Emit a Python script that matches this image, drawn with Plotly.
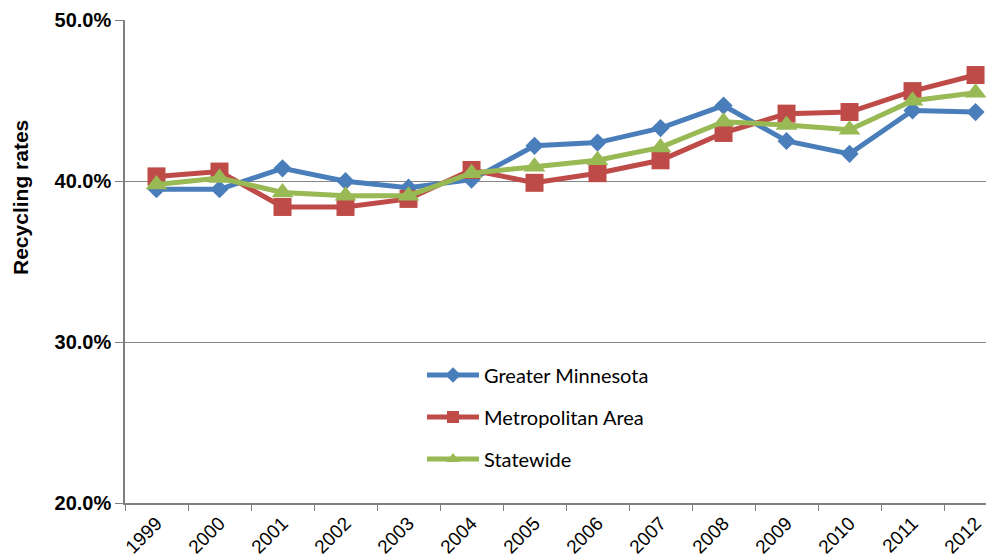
import plotly.graph_objects as go

years = ["1999", "2000", "2001", "2002", "2003", "2004", "2005", "2006",
         "2007", "2008", "2009", "2010", "2011", "2012"]
greater_mn = [39.5, 39.5, 40.8, 40.0, 39.6, 40.1, 42.2, 42.4, 43.3, 44.7, 42.5, 41.7, 44.4, 44.3]
metro_area = [40.3, 40.6, 38.4, 38.4, 38.9, 40.7, 39.9, 40.5, 41.3, 43.0, 44.2, 44.3, 45.6, 46.6]
statewide = [39.8, 40.2, 39.3, 39.1, 39.1, 40.5, 40.9, 41.3, 42.1, 43.7, 43.5, 43.2, 45.0, 45.5]
y_ticks = [20, 30, 40, 50]
y_tick_labels = ["20.0%", "30.0%", "40.0%", "50.0%"]

series = [
    ("Greater Minnesota", greater_mn, "#4A7EBB", "diamond", 14, "legend"),
    ("Metropolitan Area", metro_area, "#BE4B48", "square", 18, "legend2"),
    ("Statewide", statewide, "#98B954", "triangle-up", 19, "legend3"),
]

fig = go.Figure()
for name, vals, color, sym, size, leg in series:
    fig.add_trace(go.Scatter(
        x=years, y=vals, name=name, mode="lines+markers",
        line=dict(color=color, width=5),
        marker=dict(symbol=sym, size=size, color=color, line=dict(width=0)),
        legend=leg,
    ))

L, T, B, W = 117, 12, 63, 994
PW = W - L
PH = 558 - T - B

leg_common = dict(
    xanchor="left", yanchor="middle", bgcolor="rgba(0,0,0,0)",
    borderwidth=0, itemsizing="constant", itemwidth=52,
    font=dict(family="Lato, Liberation Sans, Arial", size=20, color="#000000"),
)
leg_x = (414 - L) / PW
fig.update_layout(
    width=W, height=558,
    margin=dict(l=L, r=0, t=T, b=B),
    paper_bgcolor="white", plot_bgcolor="white",
    showlegend=True,
    legend=dict(x=leg_x, y=0.265, **leg_common),
    legend2=dict(x=leg_x, y=0.178, **leg_common),
    legend3=dict(x=leg_x, y=0.091, **leg_common),
    xaxis=dict(
        type="category", range=[-0.5, 13.42],
        showgrid=False, showline=True, linecolor="#7F7F7F", linewidth=1.5,
        ticks="outside", tickson="boundaries", ticklen=6, tickcolor="#7F7F7F",
        tickangle=-45,
        tickfont=dict(family="Liberation Sans, Arial", size=19, color="#000000"),
    ),
    yaxis=dict(
        range=[20, 50.02], tickvals=y_ticks, ticktext=y_tick_labels,
        showgrid=True, gridcolor="#868686", gridwidth=1,
        showline=True, linecolor="#7F7F7F", linewidth=1.5,
        ticks="outside", ticklen=8, tickcolor="#7F7F7F",
        zeroline=False,
        tickfont=dict(family="Liberation Sans, Arial", size=20, color="#000000",
                      weight="bold"),
    ),
    annotations=[dict(
        text="<b>Recycling rates</b>", xref="paper", yref="paper",
        x=(13 - L) / PW, y=(PH + T - 190) / PH,
        xanchor="center", yanchor="middle", textangle=-90, showarrow=False,
        font=dict(family="Liberation Sans, Arial", size=21, color="#000000"),
    )],
)

fig.write_html("out.html")
